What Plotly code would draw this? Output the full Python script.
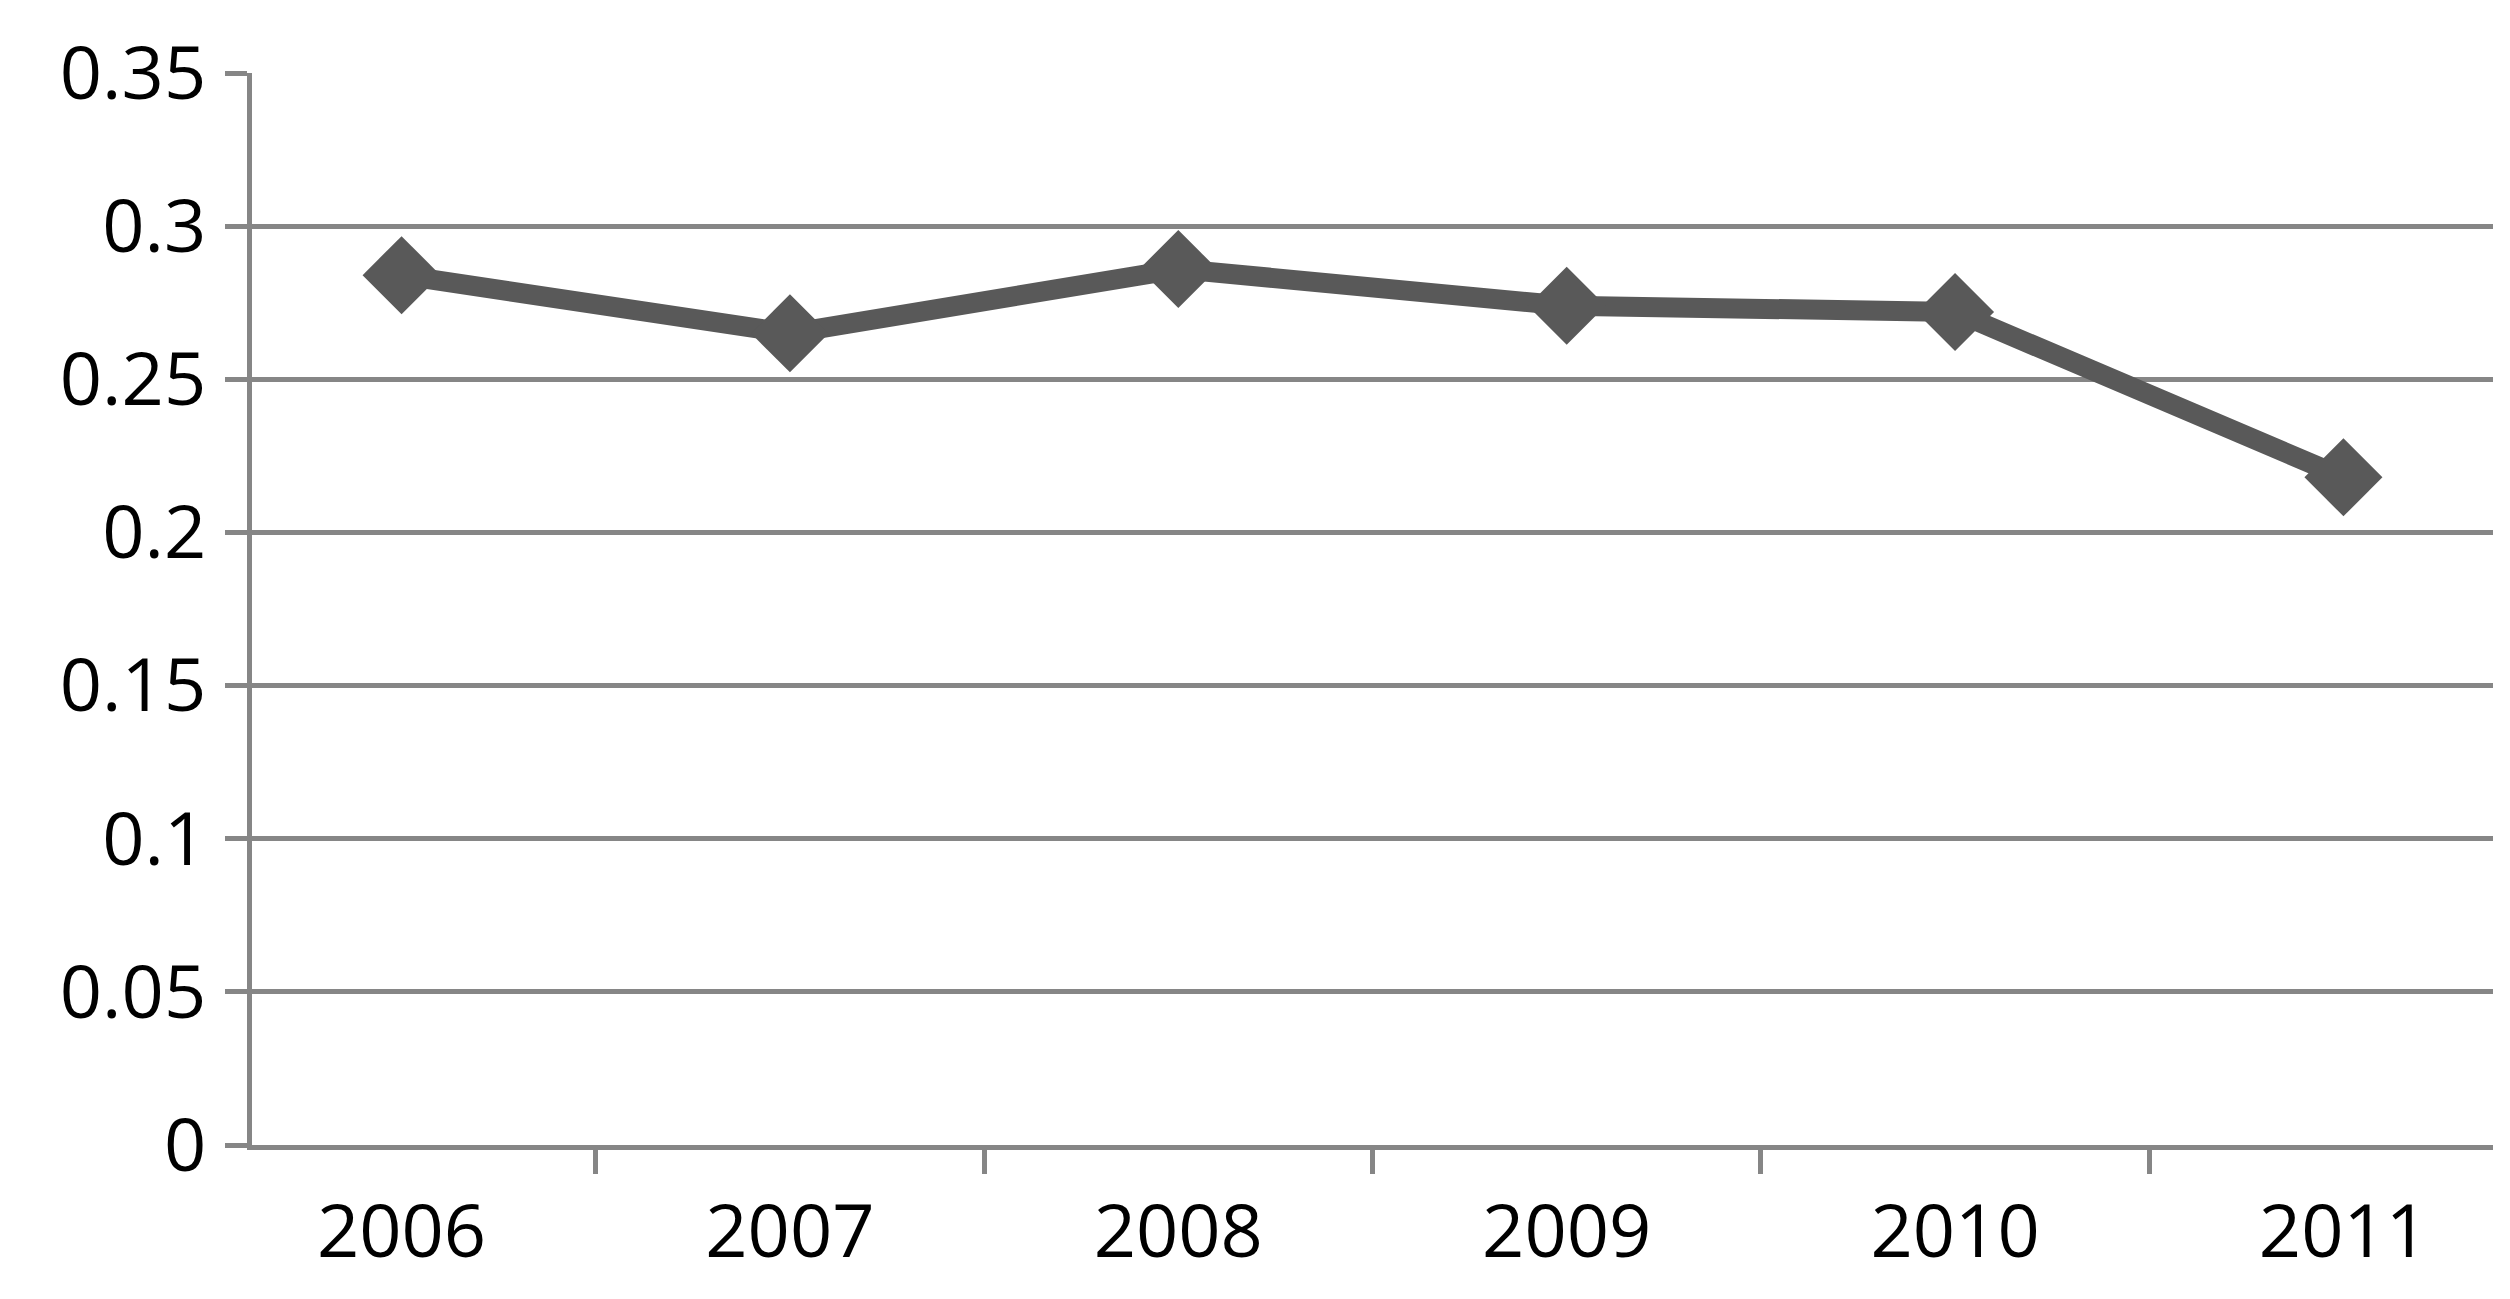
import plotly.graph_objects as go

years = ["2006", "2007", "2008", "2009", "2010", "2011"]
values = [0.284, 0.265, 0.286, 0.274, 0.272, 0.218]
yticks = [0, 0.05, 0.1, 0.15, 0.2, 0.25, 0.3, 0.35]
ytick_labels = ["0", "0.05", "0.1", "0.15", "0.2", "0.25", "0.3", "0.35"]

fig = go.Figure(go.Scatter(
    x=years, y=values, mode="lines+markers",
    line=dict(color="#595959", width=20),
    marker=dict(symbol="diamond", size=60, color="#595959"),
))
fig.update_layout(
    width=2510, height=1299, plot_bgcolor="white", paper_bgcolor="white",
    margin=dict(l=244, r=25, t=58, b=162), showlegend=False,
    font=dict(family="Open Sans", size=74, color="black"),
)
fig.update_xaxes(type="category", tickson="boundaries", ticks="outside", ticklen=24,
                 tickwidth=5, tickcolor="#868686", showline=True, linecolor="#868686",
                 linewidth=5, showgrid=False, ticklabelstandoff=18)
fig.update_yaxes(range=[0, 0.35], tickvals=yticks, ticktext=ytick_labels,
                 ticks="outside", ticklen=22, tickwidth=5, tickcolor="#868686",
                 showline=True, linecolor="#868686", linewidth=5,
                 showgrid=True, gridcolor="#868686", gridwidth=5, zeroline=False,
                 ticklabelstandoff=4)
fig.write_html("out.html")
